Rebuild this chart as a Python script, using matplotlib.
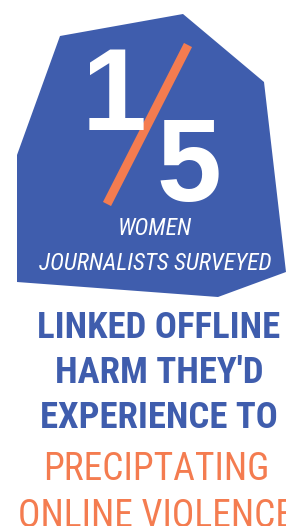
import matplotlib
matplotlib.use("Agg")
import matplotlib.pyplot as plt
from matplotlib import font_manager as fm
from matplotlib.patches import Polygon

# Colours
BLUE = "#3f5dad"
ORANGE = "#f47c50"

# Shape outline of the badge (pixel coords, y down)
badge_x = [60, 183, 264, 286, 218, 17, 17]
badge_y = [36, 14, 82, 272, 297, 282, 155]

# Text content
numerator = "1"
denominator = "5"
sub_lines = ["WOMEN", "JOURNALISTS SURVEYED"]
blue_lines = ["LINKED OFFLINE", "HARM THEY'D", "EXPERIENCE TO"]
orange_lines = ["PRECIPTATING", "ONLINE VIOLENCE"]

# pick a narrow font if one is installed
avail = {f.name for f in fm.fontManager.ttflist}
narrow = None
for cand in ["Roboto Condensed", "Liberation Sans Narrow", "Open Sans Condensed", "DejaVu Sans Condensed"]:
    if cand in avail:
        narrow = cand
        break
stretch = "normal"
if narrow is None:
    narrow = "DejaVu Sans"
    stretch = "condensed"

fig = plt.figure(figsize=(2.86, 5.26), dpi=100)
ax = fig.add_axes([0, 0, 1, 1])
ax.set_xlim(0, 286)
ax.set_ylim(526, 0)
ax.axis("off")

ax.add_patch(Polygon(list(zip(badge_x, badge_y)), closed=True, fc=BLUE, ec="none"))

# big fraction
ax.text(114, 130, numerator, color="white", fontsize=84, fontweight="bold",
        family="Liberation Sans", ha="center", va="baseline")
ax.text(189, 201, denominator, color="white", fontsize=84, fontweight="bold",
        family="Liberation Sans", ha="center", va="baseline")
ax.plot([188, 107], [45, 204], color=ORANGE, lw=6.5, solid_capstyle="butt")

# subtitle in the badge
for txt, yb in zip(sub_lines, [235, 270]):
    ax.text(155, yb, txt, color="white", fontsize=17, style="italic",
            family=narrow, stretch=stretch, ha="center", va="baseline")

for txt, yb in zip(blue_lines, [338, 383, 428]):
    ax.text(159, yb, txt, color=BLUE, fontsize=26.5, fontweight="bold",
            family=narrow, stretch=stretch, ha="center", va="baseline")

for txt, yb in zip(orange_lines, [480, 527]):
    ax.text(156, yb, txt, color=ORANGE, fontsize=27,
            family=narrow, stretch=stretch, ha="center", va="baseline")

fig.savefig("out.png", dpi=100)
